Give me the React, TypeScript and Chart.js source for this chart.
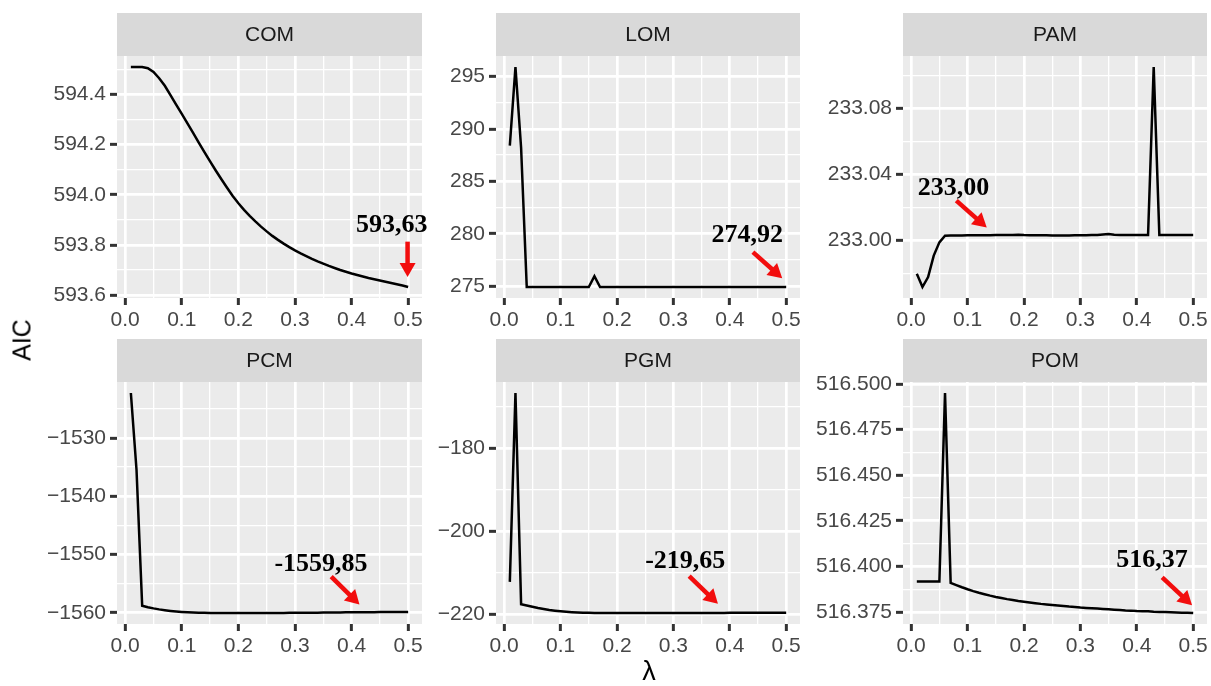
import React, { useEffect, useRef } from "react";
import { Chart, registerables } from "chart.js";
Chart.register(...registerables);

const SANS = '"Liberation Sans", Arial, Helvetica, sans-serif';
const SERIF = '"Liberation Serif", "Times New Roman", serif';
Chart.defaults.font.family = SANS;

// ---------- data ----------
const lambda = [
  0.01, 0.02, 0.03, 0.04, 0.05, 0.06, 0.07, 0.08, 0.09, 0.1,
  0.11, 0.12, 0.13, 0.14, 0.15, 0.16, 0.17, 0.18, 0.19, 0.2,
  0.21, 0.22, 0.23, 0.24, 0.25, 0.26, 0.27, 0.28, 0.29, 0.3,
  0.31, 0.32, 0.33, 0.34, 0.35, 0.36, 0.37, 0.38, 0.39, 0.4,
  0.41, 0.42, 0.43, 0.44, 0.45, 0.46, 0.47, 0.48, 0.49, 0.5,
];

const comAIC = [
  594.51, 594.51, 594.51, 594.505, 594.49, 594.465, 594.435, 594.398, 594.36, 594.323,
  594.285, 594.247, 594.208, 594.17, 594.133, 594.097, 594.062, 594.028, 593.995, 593.966,
  593.94, 593.916, 593.894, 593.873, 593.854, 593.836, 593.82, 593.805, 593.791, 593.778,
  593.766, 593.755, 593.744, 593.734, 593.725, 593.716, 593.708, 593.7, 593.693, 593.686,
  593.68, 593.674, 593.668, 593.663, 593.658, 593.653, 593.648, 593.643, 593.638, 593.632,
];

const lomAIC = [
  288.4, 295.9, 288.2, 274.92, 274.92, 274.92, 274.92, 274.92, 274.92, 274.92,
  274.92, 274.92, 274.92, 274.92, 274.92, 275.95, 274.92, 274.92, 274.92, 274.92,
  274.92, 274.92, 274.92, 274.92, 274.92, 274.92, 274.92, 274.92, 274.92, 274.92,
  274.92, 274.92, 274.92, 274.92, 274.92, 274.92, 274.92, 274.92, 274.92, 274.92,
  274.92, 274.92, 274.92, 274.92, 274.92, 274.92, 274.92, 274.92, 274.92, 274.92,
];

const pamAIC = [
  232.98, 232.972, 232.978, 232.991, 232.999, 233.003, 233.0032, 233.0032, 233.0032, 233.0033,
  233.0033, 233.0033, 233.0033, 233.0033, 233.0034, 233.0034, 233.0034, 233.0034, 233.0036, 233.0034,
  233.0033, 233.0033, 233.0033, 233.0033, 233.0032, 233.0032, 233.0032, 233.0032, 233.0033, 233.0033,
  233.0033, 233.0034, 233.0035, 233.0038, 233.004, 233.0036, 233.0034, 233.0034, 233.0034, 233.0034,
  233.0034, 233.0034, 233.105, 233.0034, 233.0034, 233.0034, 233.0034, 233.0034, 233.0034, 233.0034,
];

const pcmAIC = [
  -1522.3, -1535.5, -1558.8, -1559.05, -1559.25, -1559.42, -1559.56, -1559.68, -1559.78, -1559.86,
  -1559.92, -1559.96, -1559.99, -1560.01, -1560.02, -1560.03, -1560.03, -1560.04, -1560.04, -1560.04,
  -1560.04, -1560.04, -1560.04, -1560.03, -1560.03, -1560.03, -1560.02, -1560.02, -1560.01, -1560.01,
  -1560.0, -1560.0, -1559.99, -1559.98, -1559.97, -1559.96, -1559.95, -1559.94, -1559.93, -1559.92,
  -1559.91, -1559.9, -1559.9, -1559.89, -1559.88, -1559.88, -1559.87, -1559.86, -1559.86, -1559.85,
];

const pgmAIC = [
  -212.2, -166.6, -217.6, -217.9, -218.2, -218.5, -218.75, -218.97, -219.15, -219.3,
  -219.42, -219.52, -219.59, -219.64, -219.67, -219.69, -219.7, -219.71, -219.71, -219.71,
  -219.71, -219.71, -219.71, -219.71, -219.71, -219.7, -219.7, -219.7, -219.7, -219.7,
  -219.7, -219.7, -219.69, -219.69, -219.69, -219.68, -219.68, -219.68, -219.68, -219.67,
  -219.67, -219.67, -219.67, -219.66, -219.66, -219.66, -219.66, -219.65, -219.65, -219.65,
];

const pomAIC = [
  516.3918, 516.3918, 516.3918, 516.3918, 516.3918, 516.495, 516.391, 516.3898, 516.3886, 516.3875,
  516.3865, 516.3856, 516.3848, 516.384, 516.3833, 516.3827, 516.3821, 516.3816, 516.3811, 516.3807,
  516.3803, 516.3799, 516.3795, 516.3792, 516.3789, 516.3786, 516.3783, 516.378, 516.3778, 516.3775,
  516.3773, 516.3771, 516.3769, 516.3767, 516.3765, 516.3763, 516.3761, 516.3759, 516.3758, 516.3756,
  516.3755, 516.3754, 516.3752, 516.3751, 516.375, 516.3749, 516.3748, 516.3747, 516.3746, 516.3745,
];

const xTicks = [0, 0.1, 0.2, 0.3, 0.4, 0.5];
const comTicks = [593.6, 593.8, 594.0, 594.2, 594.4];
const lomTicks = [275, 280, 285, 290, 295];
const pamTicks = [233.0, 233.04, 233.08];
const pcmTicks = [-1560, -1550, -1540, -1530];
const pgmTicks = [-220, -200, -180];
const pomTicks = [516.375, 516.4, 516.425, 516.45, 516.475, 516.5];

const facetNames = ["COM", "LOM", "PAM", "PCM", "PGM", "POM"];
const facetValues = [comAIC, lomAIC, pamAIC, pcmAIC, pgmAIC, pomAIC];
const facetTicks = [comTicks, lomTicks, pamTicks, pcmTicks, pgmTicks, pomTicks];
const facetDecimals = [1, 0, 2, 0, 0, 3];

// annotation labels with arrows (data coordinates)
const noteLabels = ["593,63", "274,92", "233,00", "-1559,85", "-219,65", "516,37"];
const noteText = [
  [0.471, 593.886], [0.431, 280.05], [0.075, 233.0333],
  [0.346, -1551.3], [0.321, -206.7], [0.427, 516.4044],
];
const noteArrows = [
  [0.499, 593.813, 0.499, 593.672],
  [0.441, 278.24, 0.493, 275.76],
  [0.08, 233.0242, 0.134, 233.0079],
  [0.364, -1553.8, 0.414, -1558.6],
  [0.328, -210.8, 0.379, -217.5],
  [0.445, 516.394, 0.498, 516.3787],
];

// ---------- layout ----------
const COL_L = [117, 496, 903];
const COL_R = [422, 800, 1207];
const ROW_T = [56, 382];
const ROW_B = [298, 624];
const STRIP = 43;
const Y_AXIS_W = [100, 90, 110];
const X_AXIS_H = 40;
const RIGHT_PAD = 6;

function withMinor(majors: number[], min: number, max: number) {
  const step = majors[1] - majors[0];
  const all: number[] = [];
  for (let i = -1; i <= majors.length; i++) {
    if (i >= 0 && i < majors.length && majors[i] >= min - 1e-9 && majors[i] <= max + 1e-9) all.push(majors[i]);
    const h = majors[0] + (i + 0.5) * step;
    if (h >= min && h <= max) all.push(h);
  }
  return all.sort((a, b) => a - b);
}

function isIn(v: number, arr: number[]) {
  return arr.some((m) => Math.abs(m - v) < 1e-7);
}

function fmt(v: number, d: number) {
  const s = Math.abs(v).toFixed(d);
  return v < 0 ? "\u2212" + s : s;
}

function drawArrow(ctx: CanvasRenderingContext2D, x0: number, y0: number, x1: number, y1: number) {
  const ang = Math.atan2(y1 - y0, x1 - x0);
  const headLen = 14;
  const headHalf = 8;
  const sx = x1 - headLen * Math.cos(ang);
  const sy = y1 - headLen * Math.sin(ang);
  ctx.strokeStyle = "#f20d0d";
  ctx.fillStyle = "#f20d0d";
  ctx.lineWidth = 4.5;
  ctx.lineCap = "butt";
  ctx.beginPath();
  ctx.moveTo(x0, y0);
  ctx.lineTo(sx + 2 * Math.cos(ang), sy + 2 * Math.sin(ang));
  ctx.stroke();
  ctx.beginPath();
  ctx.moveTo(x1, y1);
  ctx.lineTo(sx - headHalf * Math.sin(ang), sy + headHalf * Math.cos(ang));
  ctx.lineTo(sx + headHalf * Math.sin(ang), sy - headHalf * Math.cos(ang));
  ctx.closePath();
  ctx.fill();
}

const facetPlugin = {
  id: "facet",
  beforeDraw(chart: any, _args: any, opts: any) {
    const { ctx, chartArea: a } = chart;
    ctx.save();
    ctx.fillStyle = "#ebebeb";
    ctx.fillRect(a.left, a.top, a.right - a.left, a.bottom - a.top);
    ctx.fillStyle = "#d9d9d9";
    ctx.fillRect(a.left, a.top - STRIP, a.right - a.left, STRIP);
    ctx.fillStyle = "#1a1a1a";
    ctx.font = `21px ${SANS}`;
    ctx.textAlign = "center";
    ctx.textBaseline = "middle";
    ctx.fillText(opts.title, (a.left + a.right) / 2, a.top - STRIP / 2 + 1);
    ctx.restore();
  },
  afterDatasetsDraw(chart: any, _args: any, opts: any) {
    const { ctx } = chart;
    const xs = chart.scales.x;
    const ys = chart.scales.y;
    const i = opts.index;
    ctx.save();
    const [x0, y0, x1, y1] = noteArrows[i];
    drawArrow(ctx, xs.getPixelForValue(x0), ys.getPixelForValue(y0), xs.getPixelForValue(x1), ys.getPixelForValue(y1));
    ctx.fillStyle = "#000";
    ctx.font = `bold 26px ${SERIF}`;
    ctx.textAlign = "center";
    ctx.textBaseline = "alphabetic";
    const [tx, ty] = noteText[i];
    ctx.fillText(noteLabels[i], xs.getPixelForValue(tx), ys.getPixelForValue(ty) + 9);
    ctx.restore();
  },
};

function Facet({ index }: { index: number }) {
  const ref = useRef<HTMLCanvasElement | null>(null);
  const col = index % 3;
  const row = Math.floor(index / 3);
  const L = COL_L[col], R = COL_R[col], T = ROW_T[row], B = ROW_B[row];
  const yw = Y_AXIS_W[col];
  const left = L - yw;
  const top = T - STRIP;
  const width = yw + (R - L) + RIGHT_PAD;
  const height = STRIP + (B - T) + X_AXIS_H;

  useEffect(() => {
    const values = facetValues[index];
    const majors = facetTicks[index];
    const dec = facetDecimals[index];
    const lo = Math.min(...values), hi = Math.max(...values);
    const pad = (hi - lo) * 0.05;
    const ymin = lo - pad, ymax = hi + pad;
    const xlo = lambda[0], xhi = lambda[lambda.length - 1];
    const xpad = (xhi - xlo) * 0.05;
    const xmin = xlo - xpad, xmax = xhi + xpad;
    const yAll = withMinor(majors, ymin, ymax);
    const xAll = withMinor(xTicks, xmin, xmax);

    const gridCommon = (majorsArr: number[]) => ({
      color: "#ffffff",
      lineWidth: (c: any) => (isIn(c.tick.value, majorsArr) ? 2.7 : 1.3),
      drawTicks: true,
      tickLength: 7,
      tickColor: (c: any) => (isIn(c.tick.value, majorsArr) ? "#333333" : "rgba(0,0,0,0)"),
      tickWidth: 3,
    });

    const chart = new Chart(ref.current as HTMLCanvasElement, {
      type: "line",
      data: {
        datasets: [
          {
            data: lambda.map((x, k) => ({ x, y: values[k] })),
            borderColor: "#000000",
            borderWidth: 2.5,
            pointRadius: 0,
            tension: 0,
            fill: false,
          },
        ],
      },
      options: {
        animation: false,
        responsive: false,
        devicePixelRatio: 1,
        layout: { padding: { top: STRIP, right: RIGHT_PAD, left: 0, bottom: 0 } },
        plugins: {
          legend: { display: false },
          tooltip: { enabled: false },
          facet: { title: facetNames[index], index },
        } as any,
        scales: {
          x: {
            type: "linear",
            min: xmin,
            max: xmax,
            border: { display: false },
            grid: gridCommon(xTicks) as any,
            afterBuildTicks: (s: any) => {
              s.ticks = xAll.map((v) => ({ value: v }));
            },
            afterFit: (s: any) => {
              s.height = X_AXIS_H;
            },
            ticks: {
              autoSkip: false,
              maxRotation: 0,
              padding: 3,
              color: "#474747",
              font: { size: 21, family: SANS },
              callback: (v: any) => (isIn(Number(v), xTicks) ? Number(v).toFixed(1) : ""),
            },
          },
          y: {
            type: "linear",
            min: ymin,
            max: ymax,
            border: { display: false },
            grid: gridCommon(majors) as any,
            afterBuildTicks: (s: any) => {
              s.ticks = yAll.map((v) => ({ value: v }));
            },
            afterFit: (s: any) => {
              s.width = yw;
            },
            ticks: {
              autoSkip: false,
              padding: 4,
              color: "#474747",
              font: { size: 21, family: SANS },
              callback: (v: any) => (isIn(Number(v), majors) ? fmt(Number(v), dec) : ""),
            },
          },
        },
      },
      plugins: [facetPlugin as any],
    });
    return () => chart.destroy();
  }, [index]);

  return (
    <canvas
      ref={ref}
      width={width}
      height={height}
      style={{ position: "absolute", left, top, width, height }}
    />
  );
}

export default function App() {
  return (
    <div
      style={{
        position: "absolute",
        left: 0,
        top: 0,
        width: 1211,
        height: 686,
        background: "#ffffff",
        overflow: "hidden",
        fontFamily: SANS,
      }}
    >
      {facetNames.map((_, i) => (
        <Facet key={i} index={i} />
      ))}
      <div
        style={{
          position: "absolute",
          left: 22,
          top: 340,
          transform: "translate(-50%, -50%) rotate(-90deg)",
          fontSize: 25,
          color: "#000",
          whiteSpace: "nowrap",
          lineHeight: 1,
        }}
      >
        AIC
      </div>
      <div
        style={{
          position: "absolute",
          left: 649,
          top: 671,
          transform: "translate(-50%, -50%)",
          fontSize: 27,
          color: "#000",
          whiteSpace: "nowrap",
          lineHeight: 1,
        }}
      >
        λ
      </div>
    </div>
  );
}
